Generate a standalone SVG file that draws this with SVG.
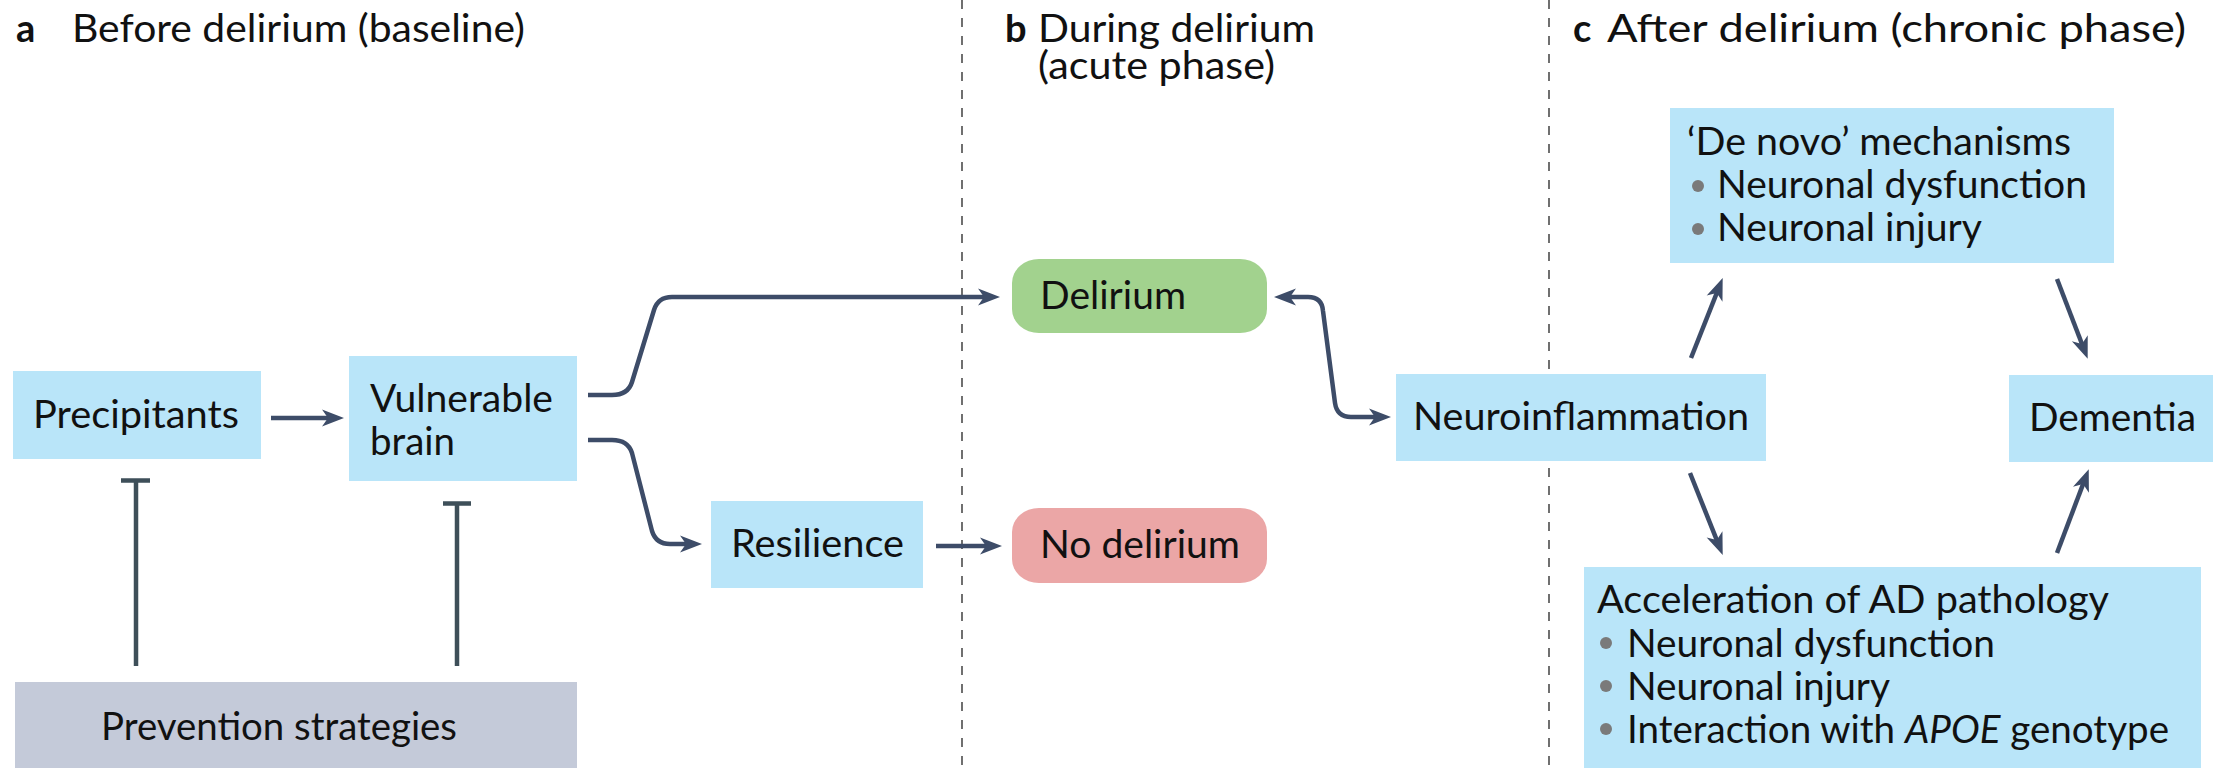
<svg xmlns="http://www.w3.org/2000/svg" width="2226" height="768" viewBox="0 0 2226 768">
  <style>
    text { font-family: Lato, "Liberation Sans", sans-serif; font-size: 38px; fill: #111; }
    .hdr { font-size: 38px; }
    .lbl { font-weight: bold; }
    .blue { fill: #b9e5f9; }
    .green { fill: #a2d28e; }
    .pink { fill: #eba6a6; }
    .grey { fill: #c4cad9; }
    .bullet { fill: #7a7a7a; }
    .divider { stroke: #4d4d4d; stroke-width: 1.6; stroke-dasharray: 9 9; fill: none; }
    .arrow { stroke: #3d4c68; stroke-width: 4.5; fill: none; marker-end: url(#ah); }
    .inhibit { stroke: #3e4f59; stroke-width: 4.5; fill: none; }
  </style>
  <defs>
    <marker id="ah" viewBox="-14 -10 26 20" refX="0" refY="0" markerWidth="26" markerHeight="20" markerUnits="userSpaceOnUse" orient="auto-start-reverse">
      <path d="M10,0 L-12,-8.5 L-6,0 L-12,8.5 Z" fill="#3d4c68"/>
    </marker>
  </defs>

  <rect width="2226" height="768" fill="#ffffff"/>

  <!-- phase dividers -->
  <g id="dividers">
    <line class="divider" x1="962" y1="0" x2="962" y2="768"/>
    <line class="divider" x1="1549" y1="0" x2="1549" y2="768"/>
  </g>

  <!-- phase headings -->
  <g id="headings">
    <text class="hdr" x="16" y="42"><tspan class="lbl">a</tspan></text>
    <text class="hdr" x="72" y="42" textLength="453" lengthAdjust="spacingAndGlyphs">Before delirium (baseline)</text>
    <text class="hdr" x="1005" y="42"><tspan class="lbl">b</tspan></text>
    <text class="hdr" x="1038" y="42" textLength="277" lengthAdjust="spacingAndGlyphs">During delirium</text>
    <text class="hdr" x="1038" y="79" textLength="237" lengthAdjust="spacingAndGlyphs">(acute phase)</text>
    <text class="hdr" x="1573" y="42"><tspan class="lbl">c</tspan></text>
    <text class="hdr" x="1607" y="42" textLength="579" lengthAdjust="spacingAndGlyphs">After delirium (chronic phase)</text>
  </g>

  <!-- connectors -->
  <g id="connectors">
    <path class="arrow" d="M271,418 H334"/>
    <path class="arrow" d="M588,395 H612 Q628,395 632,382 L654,310 Q658,297 672,297 H990"/>
    <path class="arrow" d="M588,440 H612 Q628,440 632,453 L652,531 Q656,544 670,544 H692"/>
    <path class="arrow" d="M936,546 H992"/>
    <path class="arrow" style="marker-start: url(#ah)" d="M1284,297 H1308 Q1322,297 1323,311 L1335,403 Q1337,417 1351,417 H1381"/>
    <path class="arrow" d="M1691,358 L1719,287.4"/>
    <path class="arrow" d="M2057,279 L2084.1,349.5"/>
    <path class="arrow" d="M1690,473 L1719,545.6"/>
    <path class="arrow" d="M2057,553 L2085.2,478.5"/>
    <!-- inhibition bars from prevention strategies -->
    <path class="inhibit" d="M136,666 V481 M121,480.5 H150"/>
    <path class="inhibit" d="M457,666 V504 M443,503.5 H471"/>
  </g>

  <!-- nodes -->
  <g id="precipitants">
    <rect class="blue" x="13" y="371" width="248" height="88"/>
    <text x="33" y="428" textLength="206" lengthAdjust="spacingAndGlyphs">Precipitants</text>
  </g>
  <g id="vulnerable-brain">
    <rect class="blue" x="349" y="356" width="228" height="125"/>
    <text x="370" y="412" textLength="183" lengthAdjust="spacingAndGlyphs">Vulnerable</text>
    <text x="370" y="455" textLength="85" lengthAdjust="spacingAndGlyphs">brain</text>
  </g>
  <g id="prevention-strategies">
    <rect class="grey" x="15" y="682" width="562" height="86"/>
    <text x="101" y="740" textLength="356" lengthAdjust="spacingAndGlyphs">Prevention strategies</text>
  </g>
  <g id="resilience">
    <rect class="blue" x="711" y="501" width="212" height="87"/>
    <text x="731" y="557" textLength="173" lengthAdjust="spacingAndGlyphs">Resilience</text>
  </g>
  <g id="delirium">
    <rect class="green" x="1012" y="259" width="255" height="74" rx="27" ry="24"/>
    <text x="1040" y="309" textLength="146" lengthAdjust="spacingAndGlyphs">Delirium</text>
  </g>
  <g id="no-delirium">
    <rect class="pink" x="1012" y="508" width="255" height="75" rx="27" ry="24"/>
    <text x="1040" y="558" textLength="200" lengthAdjust="spacingAndGlyphs">No delirium</text>
  </g>
  <g id="neuroinflammation">
    <rect class="blue" x="1396" y="374" width="370" height="87"/>
    <text x="1413" y="430" textLength="336" lengthAdjust="spacingAndGlyphs">Neuroinflammation</text>
  </g>
  <g id="de-novo-mechanisms">
    <rect class="blue" x="1670" y="108" width="444" height="155"/>
    <text x="1687" y="155" textLength="384" lengthAdjust="spacingAndGlyphs">‘De novo’ mechanisms</text>
    <circle class="bullet" cx="1698" cy="186" r="6"/>
    <text x="1717" y="198" textLength="370" lengthAdjust="spacingAndGlyphs">Neuronal dysfunction</text>
    <circle class="bullet" cx="1698" cy="229" r="6"/>
    <text x="1717" y="241" textLength="265" lengthAdjust="spacingAndGlyphs">Neuronal injury</text>
  </g>
  <g id="dementia">
    <rect class="blue" x="2009" y="375" width="204" height="87"/>
    <text x="2029" y="431" textLength="167" lengthAdjust="spacingAndGlyphs">Dementia</text>
  </g>
  <g id="ad-acceleration">
    <rect class="blue" x="1584" y="567" width="617" height="201"/>
    <text x="1597" y="613" textLength="512" lengthAdjust="spacingAndGlyphs">Acceleration of AD pathology</text>
    <circle class="bullet" cx="1606" cy="643" r="6"/>
    <text x="1627" y="657" textLength="368" lengthAdjust="spacingAndGlyphs">Neuronal dysfunction</text>
    <circle class="bullet" cx="1606" cy="686" r="6"/>
    <text x="1627" y="700" textLength="263" lengthAdjust="spacingAndGlyphs">Neuronal injury</text>
    <circle class="bullet" cx="1606" cy="729" r="6"/>
    <text x="1627" y="743" textLength="542" lengthAdjust="spacingAndGlyphs">Interaction with <tspan font-style="italic">APOE</tspan> genotype</text>
  </g>
</svg>
